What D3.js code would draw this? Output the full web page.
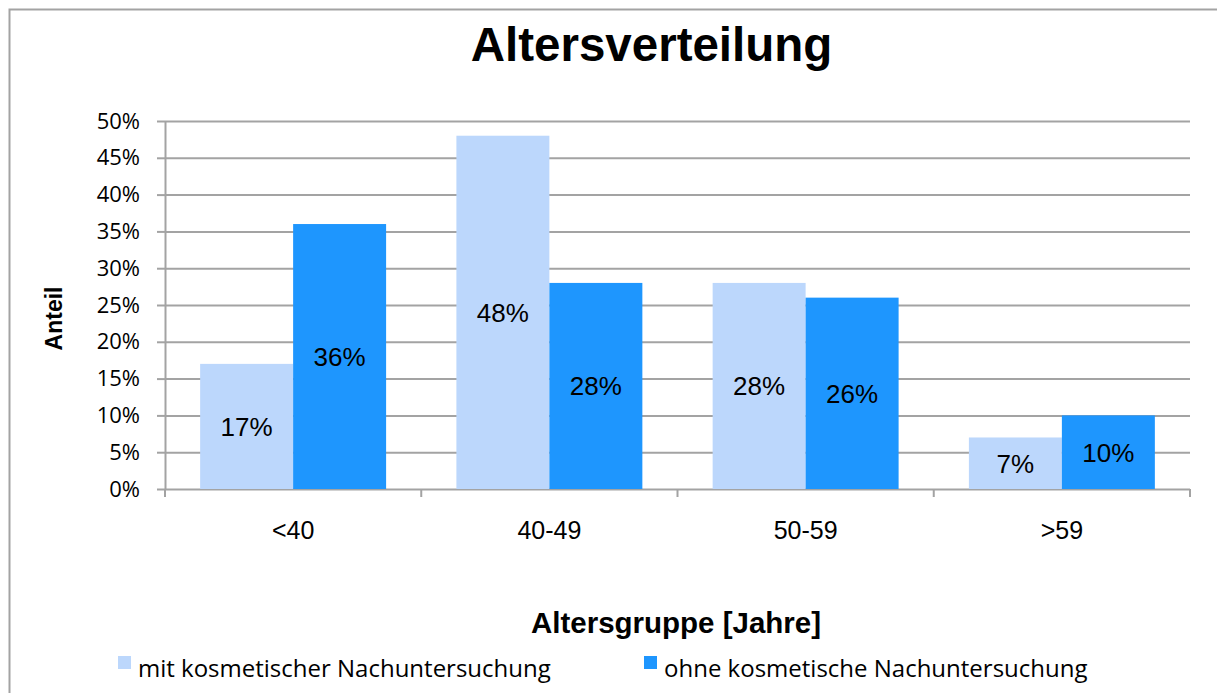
<!DOCTYPE html>
<html>
<head>
<meta charset="utf-8">
<script src="https://cdn.jsdelivr.net/npm/d3@7"></script>
<style>
  html, body { margin: 0; padding: 0; background: #ffffff; }
  svg { display: block; }
</style>
</head>
<body>
<script>
// Age groups and the share of patients in each group, per series (percent)
const categories = ["<40", "40-49", "50-59", ">59"];
const seriesNames = ["mit kosmetischer Nachuntersuchung", "ohne kosmetische Nachuntersuchung"];
const mitValues = [17, 48, 28, 7];
const ohneValues = [36, 28, 26, 10];
const yTicks = [0, 5, 10, 15, 20, 25, 30, 35, 40, 45, 50];

const colors = ["#bcd7fc", "#1e96fe"];
const gridColor = "#a3a3a3";

const W = 1217, H = 693;
const plot = { left: 165, right: 1190, top: 121, bottom: 489 };

const svg = d3.select("body").append("svg")
  .attr("width", W).attr("height", H);

// outer chart frame
svg.append("rect")
  .attr("x", 9.5).attr("y", 9.5)
  .attr("width", 1400).attr("height", 900)
  .attr("fill", "none").attr("stroke", gridColor).attr("stroke-width", 2);

const x = d3.scaleBand().domain(categories).range([plot.left, plot.right]);
const xs = d3.scaleBand().domain(seriesNames).range([0, x.bandwidth()])
  .paddingInner(0).paddingOuter(0.378);
const y = d3.scaleLinear().domain([0, 50]).range([plot.bottom, plot.top]);

// horizontal gridlines
const grid = d3.axisLeft(y).tickValues(yTicks).tickSize(-(plot.right - plot.left)).tickFormat("");
svg.append("g").attr("transform", `translate(${plot.left},0)`).call(grid)
  .call(g => g.select(".domain").remove())
  .call(g => g.selectAll("line").attr("stroke", gridColor).attr("stroke-width", 2));

// y axis with outside tick marks and percentage labels
const yAxis = d3.axisLeft(y).tickValues(yTicks).tickSize(8).tickPadding(17)
  .tickFormat(d => d + "%");
svg.append("g").attr("transform", `translate(${plot.left},0)`).call(yAxis)
  .call(g => g.select(".domain").attr("stroke", gridColor).attr("stroke-width", 2)
    .attr("d", `M0.5,${plot.top}V${plot.bottom + 1}`))
  .call(g => g.selectAll("line").attr("stroke", gridColor).attr("stroke-width", 2))
  .call(g => g.selectAll("text")
    .attr("fill", "#000")
    .style("font-family", "'Open Sans', sans-serif")
    .style("font-size", "22px"));

// category boundary ticks below the base line
const bounds = categories.map(c => x(c)).concat([plot.right]);
svg.append("g").selectAll("line").data(bounds).join("line")
  .attr("x1", d => d).attr("x2", d => d)
  .attr("y1", plot.bottom).attr("y2", plot.bottom + 8)
  .attr("stroke", gridColor).attr("stroke-width", 2);

// category labels
const xAxis = d3.axisBottom(x).tickSize(0).tickPadding(32);
svg.append("g").attr("transform", `translate(0,${plot.bottom})`).call(xAxis)
  .call(g => g.select(".domain").remove())
  .call(g => g.selectAll("text")
    .attr("fill", "#000")
    .style("font-family", "'Liberation Sans', Arial, sans-serif")
    .style("font-size", "25px"));

// bars
const rows = categories.map((c, i) => ({ cat: c, vals: [mitValues[i], ohneValues[i]] }));
const groups = svg.append("g").selectAll("g").data(rows).join("g")
  .attr("transform", d => `translate(${x(d.cat)},0)`);

const cells = groups.selectAll("g").data(d => d.vals.map((v, j) => ({ v, s: seriesNames[j], j })))
  .join("g");

cells.append("rect")
  .attr("x", d => xs(d.s))
  .attr("width", xs.bandwidth())
  .attr("y", d => y(d.v))
  .attr("height", d => y(0) - y(d.v))
  .attr("fill", d => colors[d.j]);

// value labels, centred inside each bar
cells.append("text")
  .attr("x", d => xs(d.s) + xs.bandwidth() / 2)
  .attr("y", d => (y(d.v) + y(0)) / 2)
  .attr("dy", "0.36em")
  .attr("text-anchor", "middle")
  .style("font-family", "'Liberation Sans', Arial, sans-serif")
  .style("font-size", "26px")
  .attr("fill", "#000")
  .text(d => d.v + "%");

// title
svg.append("text")
  .attr("x", 651.5).attr("y", 61)
  .attr("text-anchor", "middle")
  .style("font-family", "'Liberation Sans', Arial, sans-serif")
  .style("font-weight", "bold")
  .style("font-size", "47.5px")
  .text("Altersverteilung");

// y axis title
svg.append("text")
  .attr("transform", "translate(61.5,318.5) rotate(-90)")
  .attr("text-anchor", "middle")
  .style("font-family", "'Liberation Sans', Arial, sans-serif")
  .style("font-weight", "bold")
  .style("font-size", "23px")
  .text("Anteil");

// x axis title
svg.append("text")
  .attr("x", 676).attr("y", 633)
  .attr("text-anchor", "middle")
  .style("font-family", "'Liberation Sans', Arial, sans-serif")
  .style("font-weight", "bold")
  .style("font-size", "29.5px")
  .text("Altersgruppe [Jahre]");

// legend
const legendX = [118, 644];
const legend = svg.append("g").selectAll("g").data(seriesNames).join("g")
  .attr("transform", (d, i) => `translate(${legendX[i]},0)`);
legend.append("rect")
  .attr("x", 0).attr("y", 656).attr("width", 13).attr("height", 13)
  .attr("fill", (d, i) => colors[i]);
legend.append("text")
  .attr("x", 20).attr("y", 677)
  .style("font-family", "'Open Sans', sans-serif")
  .style("font-size", "24px")
  .attr("fill", "#000")
  .text(d => d);
</script>
</body>
</html>
